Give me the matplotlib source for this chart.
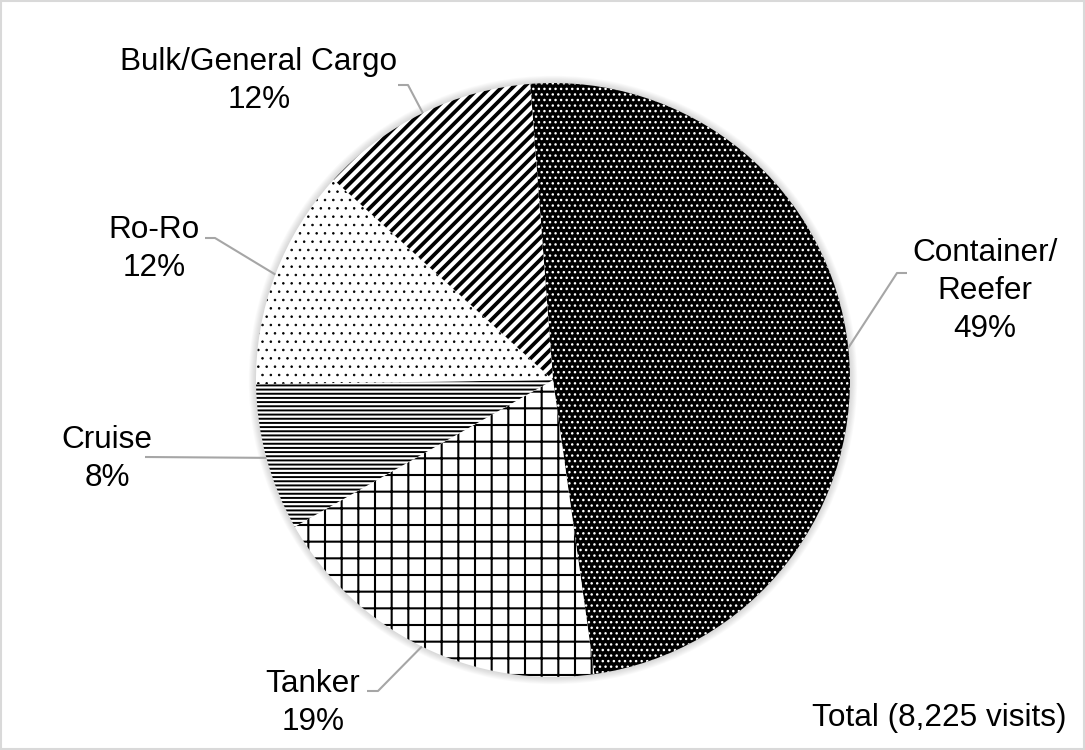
import matplotlib
matplotlib.use("Agg")
import matplotlib.pyplot as plt
from matplotlib.patches import Circle, Rectangle
import numpy as np

plt.rcParams['font.family'] = ['Liberation Sans', 'DejaVu Sans']

# Datos del grafico
tipos = ["Container/\nReefer", "Tanker", "Cruise", "Ro-Ro", "Bulk/General Cargo"]
porcentajes = [49, 19, 8, 12, 12]
total_visitas = 8225

# Estilo de cada porcion (relleno, trama, color de trama, grosor de trama)
rellenos = ["black", "white", "white", "white", "white"]
tramas = ["...", "+", "----", "..", "///"]
color_trama = ["white", "black", "black", "black", "black"]
grosor_trama = [1.0, 1.5, 1.4, 0.6, 2.7]

# Colocacion de etiquetas en pixeles (x centro, y parte alta, codo de la guia)
pos_etiquetas = [
    (985, 238, [(907, 273), (897, 273)]),
    (313, 669, [(367, 691), (378, 691)]),
    (107, 425, [(145, 457)]),
    (154, 215, [(205, 238), (215, 238)]),
    (259, 47, [(398, 85), (408, 85)]),
]

W, H = 1085, 750
cx, cy, r = 553, H - 380, 297

fig = plt.figure(figsize=(W / 100, H / 100), dpi=100)
ax = fig.add_axes([0, 0, 1, 1])

# sombra suave alrededor de la tarta
for k in range(1, 9):
    ax.add_patch(Circle((cx, cy), r + k * 0.9, facecolor="#808080",
                        edgecolor="none", alpha=0.04, zorder=0))

wedges, _ = ax.pie(porcentajes, center=(cx, cy), radius=r, startangle=94.4,
                   counterclock=False, wedgeprops=dict(linewidth=0))

for w, fc, ht, hc, hl in zip(wedges, rellenos, tramas, color_trama, grosor_trama):
    w.set_facecolor(fc)
    w.set_edgecolor(hc)
    w.set_linewidth(0)
    w.set_hatch(ht)
    w.set_zorder(2)
    if hasattr(w, "set_hatch_linewidth"):
        w.set_hatch_linewidth(hl)
    if hasattr(w, "set_hatchcolor"):
        w.set_hatchcolor(hc)

# etiquetas y lineas guia
for w, nombre, pct, (tx, ty, codo) in zip(wedges, tipos, porcentajes, pos_etiquetas):
    medio = np.deg2rad((w.theta1 + w.theta2) / 2)
    borde = (cx + r * np.cos(medio), cy + r * np.sin(medio))
    xs = [p[0] for p in codo] + [borde[0]]
    ys = [H - p[1] for p in codo] + [borde[1]]
    ax.plot(xs, ys, color="#a6a6a6", linewidth=1.5, zorder=3,
            solid_capstyle="butt")
    ax.text(tx, H - ty, f"{nombre}\n{pct}%", ha="center", va="top",
            fontsize=22.7, linespacing=1.35, color="black", zorder=4)

ax.text(1067, H - 703, f"Total ({total_visitas:,} visits)", ha="right",
        va="top", fontsize=22.7, color="black")

ax.set_xlim(0, W)
ax.set_ylim(0, H)
ax.set_aspect("auto")
ax.axis("off")

fig.patches.append(Rectangle((0.001, 0.001), 0.998, 0.998, transform=fig.transFigure,
                             fill=False, edgecolor="#d9d9d9", linewidth=1.5))

fig.savefig("out.png", dpi=100, facecolor="white")
